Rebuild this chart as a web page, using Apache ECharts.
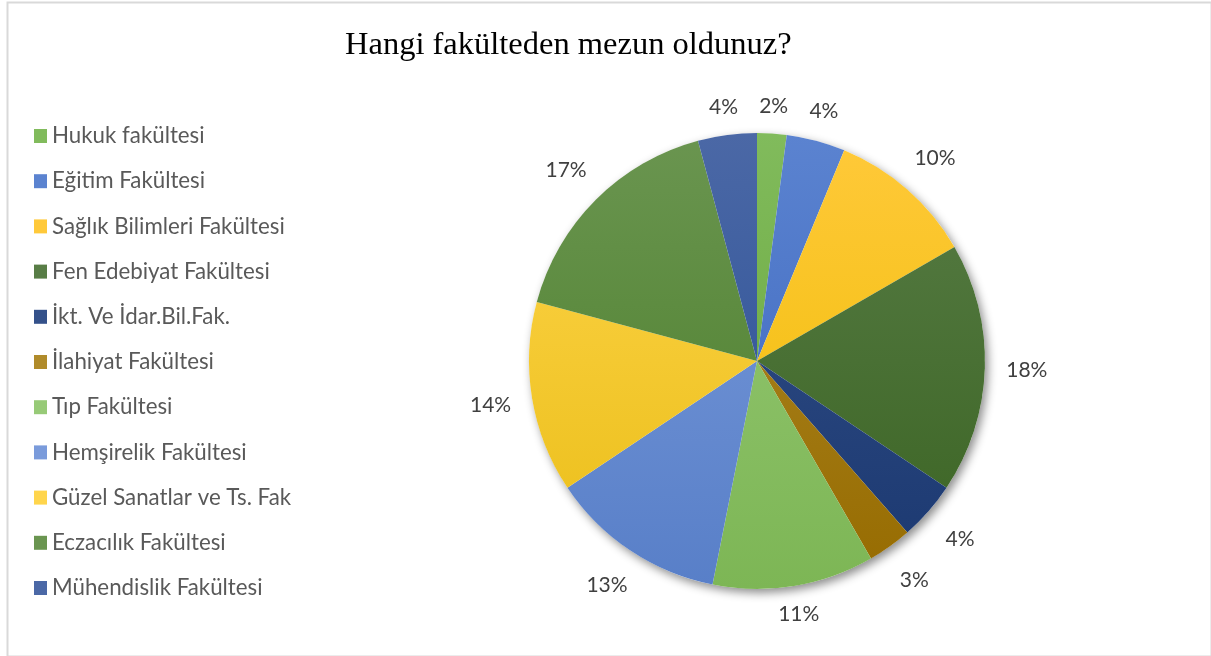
<!DOCTYPE html>
<html>
<head>
<meta charset="utf-8">
<script src="https://cdn.jsdelivr.net/npm/echarts@6/dist/echarts.min.js"></script>
<style>
  html, body { margin: 0; padding: 0; background: #fff; }
  #chart { width: 1211px; height: 656px; }
</style>
</head>
<body>
<div id="chart"></div>
<script>
// veriler
var faculties = [
  "Hukuk fakültesi",
  "Eğitim Fakültesi",
  "Sağlık Bilimleri Fakültesi",
  "Fen Edebiyat Fakültesi",
  "İkt. Ve İdar.Bil.Fak.",
  "İlahiyat Fakültesi",
  "Tıp Fakültesi",
  "Hemşirelik Fakültesi",
  "Güzel Sanatlar ve Ts. Fak",
  "Eczacılık Fakültesi",
  "Mühendislik Fakültesi"
];
// kişi sayıları (dilim açılarından okunan; toplam 96)
var counts = [2, 4, 10, 17, 4, 3, 11, 12, 13, 16, 4];

// renkler: üst (açık) / alt (koyu)
var topColors = ["#81bb5c", "#5b83d0", "#ffc93a", "#587d46", "#34518a", "#b08b2a", "#97ca77", "#7a9bdb", "#ffd54c", "#6a9550", "#4b68a6"];
var bottomColors = ["#64a337", "#3a65bd", "#eebc00", "#3a6322", "#1b3870", "#966b00", "#7db655", "#587fc8", "#e9bd16", "#4a7d28", "#274e94"];

var chart = echarts.init(document.getElementById("chart"));

var cx = 757, cy = 361, R = 228;

function grad(i) {
  return new echarts.graphic.LinearGradient(0, cy - R, 0, cy + R, [
    { offset: 0, color: topColors[i] },
    { offset: 1, color: bottomColors[i] }
  ], true);
}

var data = faculties.map(function (name, i) {
  return { name: name, value: counts[i], itemStyle: { color: grad(i) } };
});

var total = counts.reduce(function (a, b) { return a + b; }, 0);

// Excel gibi etiketleri dilim ortasına göre ortala
function placeLabel(params) {
  var i = params.dataIndex;
  var before = 0;
  for (var k = 0; k < i; k++) before += counts[k];
  var t = (before + counts[i] / 2) / total * Math.PI * 2; // tepeden saat yönünde
  var s = Math.sin(t), c = Math.cos(t);
  var d = R + 42 - 15 * Math.max(0, (Math.abs(c) - 0.85) / 0.15);
  return {
    x: cx + d * s,
    y: cy - d * c,
    align: "center",
    verticalAlign: "middle"
  };
}

chart.setOption({
  backgroundColor: "#fff",
  animation: false,
  title: {
    text: "Hangi fakülteden mezun oldunuz?",
    left: 340,
    top: 24,
    textStyle: {
      fontFamily: "Liberation Serif",
      fontSize: 32.5,
      fontWeight: "normal",
      color: "#000"
    }
  },
  legend: {
    orient: "vertical",
    left: 29,
    top: 120,
    itemWidth: 13,
    itemHeight: 14,
    itemGap: 23.2,
    icon: "rect",
    data: faculties.map(function (name, i) {
      return { name: name, itemStyle: { color: grad(i) } };
    }),
    textStyle: {
      fontFamily: "Lato",
      fontSize: 22.3,
      lineHeight: 19,
      color: "#595959"
    }
  },
  graphic: [{
    type: "rect",
    left: 5,
    top: 0,
    shape: { width: 1204, height: 654 },
    style: { fill: "none", stroke: "#d9d9d9", lineWidth: 2 },
    silent: true
  }],
  series: [
    {
      // gölge için arka disk
      type: "pie",
      center: [cx, cy],
      radius: R,
      silent: true,
      label: { show: false },
      labelLine: { show: false },
      z: 1,
      data: [{ value: 1, name: "", itemStyle: { color: "#fff", shadowBlur: 10, shadowOffsetX: 3, shadowOffsetY: 4, shadowColor: "rgba(0,0,0,0.45)" } }]
    },
    {
      type: "pie",
      center: [cx, cy],
      radius: R,
      startAngle: 90,
      clockwise: true,
      avoidLabelOverlap: false,
      percentPrecision: 0,
      z: 2,
      label: {
        show: true,
        position: "outside",
        formatter: "{d}%",
        fontFamily: "Lato",
        fontSize: 21,
        color: "#404040"
      },
      labelLine: { show: false, length: 14, length2: 0 },
      labelLayout: placeLabel,
      itemStyle: { borderWidth: 0 },
      emphasis: { disabled: true },
      data: data
    }
  ]
});
</script>
</body>
</html>
